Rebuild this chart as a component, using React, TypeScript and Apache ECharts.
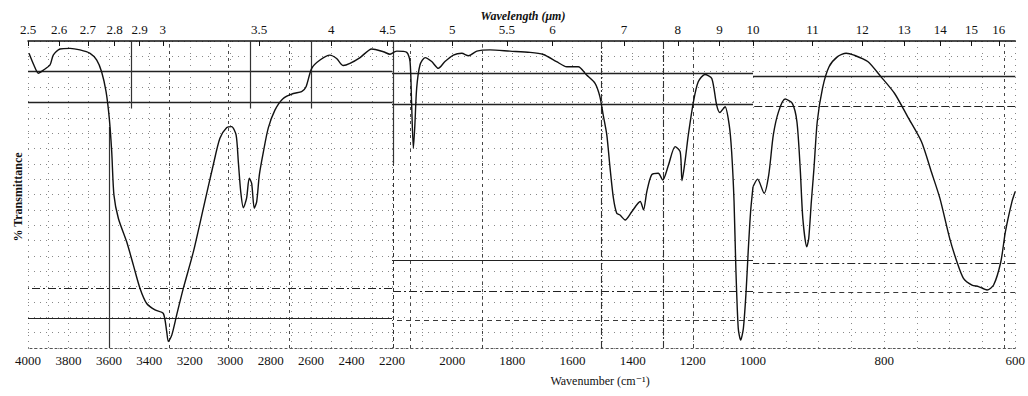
import React, { useEffect, useRef } from "react";
import * as echarts from "echarts";

// IR spectrum: wavenumber (cm-1) and % transmittance
const wavenumbers = [
  3995, 3970, 3949, 3924, 3891, 3875, 3842, 3792, 3743, 3693, 3660, 3636, 3614, 3598, 3586, 3575,
  3553, 3512, 3479, 3446, 3413, 3372, 3331, 3314, 3306, 3289, 3265, 3232, 3182, 3133, 3084, 3051,
  3017, 2993, 2971, 2960, 2948, 2935, 2919, 2906, 2894, 2881, 2869, 2856, 2836, 2812, 2779, 2738,
  2688, 2647, 2625, 2597, 2556, 2507, 2474, 2441, 2408, 2358, 2300, 2243, 2210, 2200, 2184, 2151,
  2140, 2135, 2129, 2124, 2118, 2107, 2090, 2068, 2046, 2024, 1996, 1968, 1946, 1918, 1874, 1808,
  1741, 1697, 1653, 1619, 1581, 1553, 1525, 1509, 1498, 1486, 1475, 1464, 1453, 1442, 1425, 1403,
  1375, 1364, 1353, 1337, 1315, 1300, 1281, 1259, 1242, 1236, 1226, 1215, 1198, 1182, 1160, 1137,
  1121, 1110, 1093, 1079, 1071, 1063, 1057, 1049, 1041, 1032, 1023, 1016, 1008, 1000, 993, 983,
  976, 969, 961, 951, 940, 933, 928, 924, 918, 915, 911, 907, 902, 894, 884, 871,
  858, 846, 825, 805, 784, 764, 743, 728, 715, 700, 689, 679, 666, 656, 643, 633,
  622, 615, 605, 600,
];
const transmittance = [
  96, 92, 89.5, 90.5, 92.2, 95.4, 97.4, 97.6, 97.1, 96.0, 93.8, 90.0, 83.5, 74.8, 63.9, 49.8,
  42.2, 34.6, 27.0, 19.4, 14.5, 12.4, 11.3, 5.3, 2.1, 4.2, 10.7, 19.4, 31.4, 45.5, 59.6, 68.3,
  71.8, 72.1, 69.4, 60.7, 50.9, 45.7, 48.8, 55.3, 53.6, 45.5, 47.7, 56.4, 63.9, 71.6, 77.5, 81.3,
  82.9, 83.5, 85.1, 91.1, 93.8, 95.4, 94.3, 92.0, 92.7, 94.6, 97.4, 96.5, 95.7, 96.0, 96.7, 96.3,
  93.3, 80.2, 65.0, 72.6, 84.6, 92.2, 94.6, 93.3, 91.1, 93.3, 95.4, 96.0, 95.2, 96.7, 97.1, 96.7,
  96.3, 95.6, 93.3, 91.6, 91.6, 88.9, 86.2, 81.9, 75.9, 69.4, 58.5, 48.8, 43.9, 43.3, 41.7, 44.4,
  47.7, 45.0, 50.9, 56.4, 56.9, 54.7, 59.6, 65.6, 63.9, 54.5, 60.7, 69.4, 80.2, 86.7, 89.1, 87.8,
  79.2, 76.7, 78.6, 72.6, 63.9, 47.7, 26.0, 6.4, 2.6, 6.4, 18.3, 31.4, 44.4, 52.5, 55.0, 50.4,
  56.4, 69.4, 77.0, 81.1, 79.7, 73.7, 58.5, 42.2, 33.0, 35.7, 47.7, 58.5, 73.7, 84.6, 91.6, 94.9,
  96.0, 95.4, 93.3, 88.4, 82.9, 75.3, 67.2, 57.4, 48.8, 35.7, 28.1, 22.7, 20.5, 20.0, 18.9, 20.5,
  28.1, 37.9, 47.7, 51,
];

// wavenumber tick labels (bottom) for the three linear segments of the chart paper
const bottomLabelsA = [4000, 3800, 3600, 3400, 3200, 3000, 2800, 2600, 2400];
const bottomLabelsB = [2200, 2000, 1800, 1600, 1400, 1200];
const bottomLabelsC = [1000, 800, 600];
// wavelength tick labels (top, micrometres)
const topLabelsA = [2.5, 2.6, 2.7, 2.8, 2.9, 3, 3.5, 4, 4.5];
const topLabelsB = [5, 5.5, 6, 7, 8, 9];
const topLabelsC = [10, 11, 12, 13, 14, 15, 16];

const SERIF = "'Liberation Serif', 'DejaVu Serif', serif";

type Seg = {
  min: number; max: number; left: number; right: number; step: number;
  bottom: number[]; top: number[];
  hLines: { y: number; type: any; w: number }[];
  vLines: { x: number; y0: number; y1: number; type: any; w: number }[];
};

const segments: Seg[] = [
  {
    min: 2200, max: 4000, left: 28, right: 1028 - 392, step: 100,
    bottom: bottomLabelsA, top: topLabelsA,
    hLines: [
      { y: 90, type: "solid", w: 1.3 }, { y: 80, type: "solid", w: 1.3 },
      { y: 19.5, type: [8, 3, 2, 3], w: 1 }, { y: 9.8, type: "solid", w: 1.2 },
    ],
    vLines: [
      { x: 3600, y0: 0, y1: 72, type: "solid", w: 1.2 },
      { x: 3490, y0: 78, y1: 100, type: "solid", w: 1.2 },
      { x: 2900, y0: 78, y1: 100, type: "solid", w: 1.2 },
      { x: 2600, y0: 78, y1: 100, type: "solid", w: 1.2 },
      { x: 3300, y0: 0, y1: 100, type: [3, 4], w: 0.9 },
      { x: 3010, y0: 0, y1: 100, type: [3, 4], w: 0.9 },
      { x: 2710, y0: 0, y1: 100, type: [3, 4], w: 0.9 },
    ],
  },
  {
    min: 1000, max: 2200, left: 392, right: 1028 - 753, step: 100,
    bottom: bottomLabelsB, top: topLabelsB,
    hLines: [
      { y: 89.6, type: "solid", w: 1.3 }, { y: 79.5, type: "solid", w: 1.3 },
      { y: 28.5, type: "solid", w: 1.1 }, { y: 18.6, type: [8, 3, 2, 3], w: 1 },
      { y: 9, type: [5, 4], w: 0.9 },
    ],
    vLines: [
      { x: 2195, y0: 60, y1: 100, type: "solid", w: 1.2 },
      { x: 2195, y0: 0, y1: 60, type: [4, 3], w: 1 },
      { x: 1503, y0: 0, y1: 100, type: [7, 2, 2, 2], w: 1.1 },
      { x: 1297, y0: 0, y1: 100, type: [7, 2, 2, 2], w: 1.1 },
      { x: 1200, y0: 0, y1: 100, type: [4, 4], w: 0.9 },
      { x: 2140, y0: 0, y1: 100, type: [3, 4], w: 0.9 },
      { x: 1900, y0: 0, y1: 100, type: [3, 4], w: 0.9 },
    ],
  },
  {
    min: 600, max: 1000, left: 753, right: 12, step: 50,
    bottom: bottomLabelsC, top: topLabelsC,
    hLines: [
      { y: 88.5, type: "solid", w: 1.3 }, { y: 78.6, type: [8, 3], w: 1 },
      { y: 27.7, type: [8, 3, 2, 3], w: 1 }, { y: 18, type: [5, 4], w: 0.9 },
    ],
    vLines: [
      { x: 1004, y0: 0, y1: 100, type: [4, 4], w: 0.9 },
      { x: 617, y0: 0, y1: 100, type: [3, 4], w: 0.9 },
    ],
  },
];

const TOP = 41;
const BOTTOM = 396 - 348;

function fmtMicron(v: number) {
  const l = Math.round((10000 / v) * 10) / 10;
  return String(l);
}

export default function App() {
  const ref = useRef<HTMLDivElement>(null);

  useEffect(() => {
    if (!ref.current) return;
    const chart = echarts.init(ref.current, null, { renderer: "svg" });

    const pairs = wavenumbers.map((w, i) => [w, transmittance[i]]);

    const grid: any[] = [];
    const xAxis: any[] = [];
    const yAxis: any[] = [];
    const series: any[] = [];

    segments.forEach((s, i) => {
      grid.push({ left: s.left, right: s.right, top: TOP, bottom: BOTTOM, containLabel: false });
      xAxis.push({
        type: "value", gridIndex: i, min: s.min, max: s.max, inverse: true, position: "bottom",
        interval: s.step,
        axisLine: { show: true, lineStyle: { color: "#555", type: [2, 3], width: 1 } },
        axisTick: { show: false },
        axisLabel: {
          customValues: s.bottom, formatter: (v: number) => String(v), margin: 6,
          fontFamily: SERIF, fontSize: 13, color: "#111",
        },
        splitLine: { show: true, lineStyle: { color: "#888", type: [1, 5], width: 1 } },
      });
      const topVals = s.top.map((l) => 10000 / l);
      xAxis.push({
        type: "value", gridIndex: i, min: s.min, max: s.max, inverse: true, position: "top",
        axisLine: { show: true, lineStyle: { color: "#111", width: 1.5 } },
        axisTick: { show: true, inside: true, length: 5, customValues: topVals, lineStyle: { color: "#111", width: 1 } },
        axisLabel: {
          customValues: topVals, formatter: fmtMicron, margin: 5,
          fontFamily: SERIF, fontSize: 13, color: "#111",
        },
        splitLine: { show: false },
      });
      yAxis.push({
        type: "value", gridIndex: i, min: 0, max: 100, interval: 5,
        axisLine: { show: false }, axisTick: { show: false }, axisLabel: { show: false },
        splitLine: { show: true, lineStyle: { color: "#888", type: [1, 5], width: 1 } },
      });
      const segData = pairs.filter((p) => p[0] >= s.min && p[0] <= s.max);
      const mlData: any[] = [];
      s.hLines.forEach((h) => {
        mlData.push({ yAxis: h.y, lineStyle: { type: h.type, width: h.w, color: "#222" } });
      });
      s.vLines.forEach((v) => {
        mlData.push([
          { coord: [v.x, v.y0], lineStyle: { type: v.type, width: v.w, color: "#333" } },
          { coord: [v.x, v.y1] },
        ]);
      });
      series.push({
        type: "line", xAxisIndex: 2 * i, yAxisIndex: i, data: segData,
        showSymbol: false, smooth: 0.25, clip: false,
        lineStyle: { color: "#111", width: 1.4 },
        markLine: {
          silent: true, symbol: ["none", "none"], label: { show: false },
          animation: false, data: mlData,
        },
        z: 5,
      });
    });

    chart.setOption({
      animation: false,
      backgroundColor: "#ffffff",
      grid, xAxis, yAxis, series,
      graphic: [
        {
          type: "text", x: 523, y: 16,
          style: { text: "Wavelength (μm)", font: `italic bold 12px ${SERIF}`, fill: "#111", align: "center", verticalAlign: "middle" },
        },
        {
          type: "text", x: 600, y: 381,
          style: { text: "Wavenumber (cm⁻¹)", font: `12px ${SERIF}`, fill: "#111", align: "center", verticalAlign: "middle" },
        },
        {
          type: "text", x: 18, y: 197, rotation: Math.PI / 2,
          style: { text: "% Transmittance", font: `bold 12px ${SERIF}`, fill: "#111", align: "center", verticalAlign: "middle" },
        },
      ],
    });

    return () => chart.dispose();
  }, []);

  return (
    <div
      ref={ref}
      style={{ position: "fixed", left: 0, top: 0, width: 1028, height: 396, background: "#fff" }}
    />
  );
}
